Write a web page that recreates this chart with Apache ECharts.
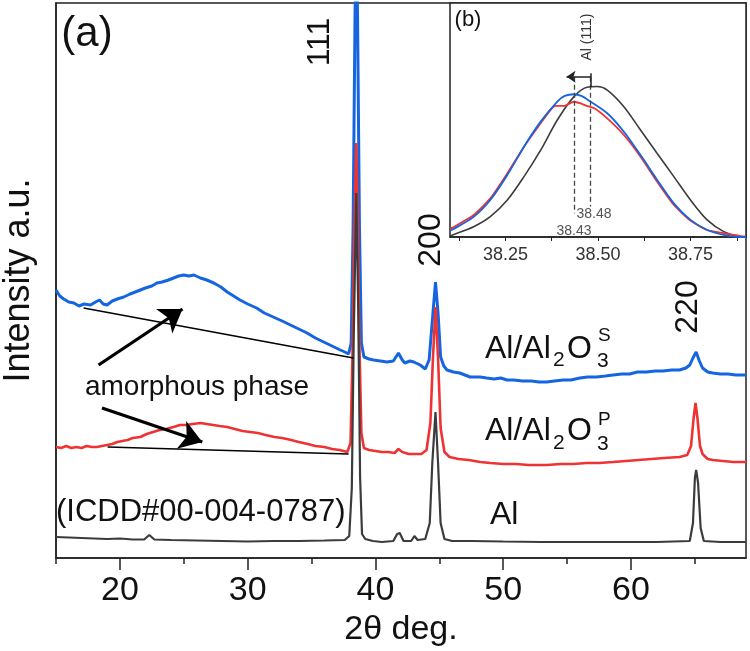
<!DOCTYPE html>
<html>
<head>
<meta charset="utf-8">
<script src="https://cdn.jsdelivr.net/npm/echarts@6.0.0/dist/echarts.min.js"></script>
<style>
html,body{margin:0;padding:0;background:#fff;}
#chart{width:750px;height:651px;}
</style>
</head>
<body>
<div id="chart"></div>
<script>
// ---------- main panel (a): 2-theta vs stacked intensity (a.u.) ----------
const xTicksMajor = [20, 30, 40, 50, 60];
const xTicksMinor = [15, 25, 35, 45, 55, 65];

const seriesS = [[15.0,268],[15.3,262],[15.6,259],[16.0,256],[16.4,255],[16.8,252],[17.2,254],[17.7,253],[18.1,256],[18.4,258],[18.7,254],[19.0,253],[19.4,257],[19.8,259],[20.3,261],[20.8,264],[21.2,266],[21.6,268],[22.0,270],[22.5,272],[22.9,275],[23.3,276],[23.8,278],[24.2,280],[24.6,282],[25.0,283],[25.4,282],[25.8,283],[26.3,280],[26.8,278],[27.35,275],[27.9,271],[28.4,266],[28.9,262],[29.4,258],[30.0,254],[30.7,250],[31.3,245],[32.0,241],[32.7,237],[33.35,233],[34.0,229],[34.65,225],[35.3,220],[35.95,216],[36.6,212],[37.25,208],[37.6,206],[37.9,204],[38.1,215],[38.25,330],[38.4,540],[38.5,640],[38.6,540],[38.75,330],[38.9,215],[39.1,201],[39.5,199],[39.85,198],[40.4,197],[40.9,196],[41.4,197],[41.8,205],[42.1,198],[42.3,195],[42.7,197],[43.0,196],[43.5,193],[43.9,189],[44.2,198],[44.5,245],[44.7,276],[44.9,245],[45.1,201],[45.35,192],[45.6,188],[46.1,186],[46.6,185],[47.4,181],[48.2,181],[48.7,180],[49.3,179],[49.8,180],[50.3,178],[50.8,178],[51.5,177],[52.2,177],[52.8,176],[53.4,176],[54.0,177],[54.7,178],[55.3,178],[56.0,180],[56.6,181],[57.3,181],[58.0,182],[58.6,183],[59.3,184],[59.9,184],[60.5,186],[61.2,186],[61.9,187],[62.5,187],[63.2,188],[63.8,188],[64.3,190],[64.6,193],[64.85,200],[65.1,206],[65.35,197],[65.6,190],[66.0,186],[66.4,185],[67.0,184],[67.6,184],[68.2,183],[69.0,183]];

const seriesP = [[15.0,111],[15.4,110],[15.8,112],[16.2,110],[16.6,111],[17.0,110],[17.4,112],[17.8,111],[18.2,111],[18.6,112],[19.0,113],[19.4,114],[19.8,116],[20.2,117],[20.6,118],[21.0,120],[21.6,121],[22.1,124],[22.6,126],[23.1,128],[23.6,129],[24.2,131],[24.7,133],[25.2,133],[25.7,134],[26.3,135],[26.8,134],[27.3,133],[27.8,132],[28.4,131],[29.0,129],[29.6,127],[30.2,126],[30.8,125],[31.4,123],[32.1,121],[32.7,120],[33.4,118],[34.0,116],[34.7,114],[35.3,112],[36.0,111],[36.6,109],[37.2,108],[37.8,106],[38.05,115],[38.2,200],[38.35,330],[38.5,415],[38.6,350],[38.75,210],[38.9,125],[39.1,110],[39.5,108],[40.0,107],[40.5,106],[41.0,106],[41.5,105],[41.8,109],[42.1,106],[42.6,104],[43.1,104],[43.6,104],[44.0,108],[44.3,135],[44.5,200],[44.7,251],[44.9,200],[45.1,130],[45.4,106],[45.8,101],[46.5,99],[47.3,98],[48.2,96],[49.0,95],[50.0,94],[51.0,94],[52.0,93],[53.4,93],[54.5,94],[55.5,94],[56.5,95],[57.5,95],[58.6,96],[59.6,97],[60.6,98],[61.6,99],[62.6,100],[63.8,101],[64.4,103],[64.7,112],[64.9,140],[65.05,155],[65.2,140],[65.4,112],[65.6,104],[66.0,99],[66.4,98],[67.2,97],[68.0,96],[69.0,96]];

const seriesAl = [[15.0,21],[16.0,20.5],[17.0,20],[18.0,19.5],[19.0,19],[20.0,19.5],[21.0,18.5],[21.9,18.5],[22.3,23],[22.7,18.5],[24.0,18],[26.0,17.5],[28.0,17],[30.0,16.5],[32.0,17],[34.0,17],[36.0,17.5],[37.6,18],[37.95,22],[38.15,70],[38.3,220],[38.5,365],[38.65,250],[38.8,80],[38.95,24],[39.2,19],[39.8,17],[40.5,16],[41.4,17],[41.7,24],[41.9,25],[42.2,17],[42.8,17],[43.05,22],[43.3,18],[43.9,19],[44.25,35],[44.45,95],[44.7,146],[44.9,95],[45.1,35],[45.4,19],[46.0,17],[47.5,17],[50.0,16.5],[53.0,16],[56.0,16],[59.0,16],[62.0,16],[64.6,17],[64.85,35],[65.0,80],[65.1,88],[65.25,75],[65.45,30],[65.7,17],[67.0,16],[69.0,16]];

// amorphous-hump baselines and arrows (data coordinates)
const baseS = [[17.16,250],[38.27,200]];
const baseP = [[19.04,111],[37.9,104]];
const arrowUp = [[18.33,193],[24.9,249]];
const arrowDown = [[18.6,150],[26.45,116]];

// ---------- inset (b): Al (111) peak ----------
const insetTicks = [38.125, 38.25, 38.375, 38.5, 38.625, 38.75, 38.875];
const insetLabels = [38.25, 38.5, 38.75];
const insetAl = [[38.10,0.5],[38.107,0.9],[38.164,4.4],[38.209,8.7],[38.255,15.8],[38.30,25.8],[38.345,37.1],[38.39,50],[38.435,60],[38.47,64],[38.498,64.3],[38.525,62.8],[38.57,55.7],[38.615,45.7],[38.66,35.7],[38.705,25.8],[38.75,15.8],[38.795,7.3],[38.84,2.3],[38.885,0.1],[38.90,0]];
const insetS = [[38.10,2.8],[38.107,3.2],[38.164,8.6],[38.209,15.8],[38.255,26.5],[38.30,38.6],[38.345,49.3],[38.39,57.9],[38.41,60.3],[38.435,61],[38.455,60.3],[38.47,58.9],[38.525,52.9],[38.57,45],[38.615,35],[38.66,24.4],[38.705,14.4],[38.75,7.3],[38.795,3],[38.84,0.9],[38.885,0],[38.90,0]];
const insetP = [[38.10,3.6],[38.107,4],[38.164,9.4],[38.209,16.5],[38.255,27.2],[38.30,38.6],[38.345,48.6],[38.372,54.3],[38.385,56],[38.408,56],[38.435,57.8],[38.453,57.1],[38.47,56],[38.49,55],[38.525,50.7],[38.57,43.6],[38.615,34.3],[38.66,23.6],[38.705,13.7],[38.75,7],[38.795,3],[38.84,1.6],[38.885,0.4],[38.90,0.3]];
const dashLeft = [[38.435,68.5],[38.435,10.2]];
const dashRight = [[38.48,68.5],[38.48,13]];
const shiftArrow = [[38.48,68.5],[38.415,68.5]];
const shiftTick = [[38.48,64],[38.48,70]];

const FONT = "'Liberation Sans', Arial, sans-serif";
const C_S = '#1565e0', C_P = '#f03232', C_AL = '#3c3c3c', AX = '#222';

function txt(text, x, y, size, opts) {
  opts = opts || {};
  return {
    type: 'text', x: x, y: y, rotation: opts.rot || 0, z: 100,
    style: {
      text: text, fontSize: size, fontFamily: FONT, fill: opts.color || '#111',
      align: opts.align || 'left', verticalAlign: 'middle',
      textAlign: opts.align || 'left', textVerticalAlign: 'middle'
    }
  };
}

const chart = echarts.init(document.getElementById('chart'), null, {renderer: 'canvas'});
chart.setOption({
  animation: false,
  backgroundColor: '#fff',
  textStyle: {fontFamily: FONT},
  grid: [
    {left: 56, right: 4, top: 3, bottom: 93, show: true, borderColor: AX, borderWidth: 1.5,
     containLabel: false, outerBoundsMode: 'none'},
    {left: 450, top: 3, width: 296, height: 234, show: true, borderColor: AX, borderWidth: 1.5,
     backgroundColor: '#fff', z: 5, containLabel: false, outerBoundsMode: 'none'}
  ],
  xAxis: [
    {
      type: 'value', gridIndex: 0, position: 'bottom', min: 15, max: 69,
      axisLine: {show: true, lineStyle: {color: AX, width: 1.5}},
      axisTick: {show: true, customValues: xTicksMajor, length: 12, lineStyle: {color: AX, width: 1.5}},
      axisLabel: {customValues: xTicksMajor, fontSize: 34, color: '#111', margin: 16, fontFamily: FONT},
      splitLine: {show: false},
      name: '2θ deg.', nameLocation: 'middle', nameGap: 50,
      nameTextStyle: {fontSize: 34, color: '#111', fontFamily: FONT}
    },
    {
      type: 'value', gridIndex: 0, position: 'bottom', offset: 0, min: 15, max: 69,
      axisLine: {show: false},
      axisTick: {show: true, customValues: xTicksMinor, length: 6, lineStyle: {color: AX, width: 1.5}},
      axisLabel: {show: false},
      splitLine: {show: false}
    },
    {
      type: 'value', gridIndex: 1, position: 'bottom', min: 38.1, max: 38.9, z: 6,
      axisLine: {show: true, lineStyle: {color: AX, width: 1.5}},
      axisTick: {show: true, customValues: insetTicks, length: 4, lineStyle: {color: AX, width: 1}},
      axisLabel: {customValues: insetLabels, fontSize: 18, color: '#333', margin: 9, fontFamily: FONT,
                  formatter: function (v) { return Number(v).toFixed(2); }},
      splitLine: {show: false}
    }
  ],
  yAxis: [
    {
      type: 'value', gridIndex: 0, min: 0, max: 555,
      axisLine: {show: true, lineStyle: {color: AX, width: 1.5}},
      axisTick: {show: false}, axisLabel: {show: false}, splitLine: {show: false},
      name: 'Intensity a.u.', nameLocation: 'middle', nameGap: 19,
      nameTextStyle: {fontSize: 36, color: '#111', fontFamily: FONT}
    },
    {
      type: 'value', gridIndex: 1, min: 0, max: 100, z: 6,
      axisLine: {show: false}, axisTick: {show: false}, axisLabel: {show: false}, splitLine: {show: false}
    }
  ],
  series: [
    {name: 'Al/Al2O3 S', type: 'line', xAxisIndex: 0, yAxisIndex: 0, data: seriesS, symbol: 'none', clip: true,
     lineStyle: {color: C_S, width: 3}},
    {name: 'Al/Al2O3 P', type: 'line', xAxisIndex: 0, yAxisIndex: 0, data: seriesP, symbol: 'none', clip: true,
     lineStyle: {color: C_P, width: 2.6}},
    {name: 'Al', type: 'line', xAxisIndex: 0, yAxisIndex: 0, data: seriesAl, symbol: 'none', clip: true,
     lineStyle: {color: C_AL, width: 2.2}},
    {type: 'line', xAxisIndex: 0, yAxisIndex: 0, data: baseS, symbol: 'none', lineStyle: {color: '#000', width: 1.5}, z: 3},
    {type: 'line', xAxisIndex: 0, yAxisIndex: 0, data: baseP, symbol: 'none', lineStyle: {color: '#000', width: 1.5}, z: 3},
    {type: 'lines', coordinateSystem: 'cartesian2d', xAxisIndex: 0, yAxisIndex: 0, z: 4,
     symbol: ['none', 'arrow'], symbolSize: [16, 22],
     lineStyle: {color: '#000', width: 3.2, opacity: 1},
     data: [{coords: arrowUp}, {coords: arrowDown}]},
    // inset
    {type: 'line', xAxisIndex: 2, yAxisIndex: 1, data: insetAl, symbol: 'none', smooth: 0.3, z: 7,
     lineStyle: {color: C_AL, width: 1.6}},
    {type: 'line', xAxisIndex: 2, yAxisIndex: 1, data: insetP, symbol: 'none', smooth: 0.2, z: 7,
     lineStyle: {color: C_P, width: 1.8}},
    {type: 'line', xAxisIndex: 2, yAxisIndex: 1, data: insetS, symbol: 'none', smooth: 0.3, z: 7,
     lineStyle: {color: C_S, width: 1.8}},
    {type: 'lines', coordinateSystem: 'cartesian2d', xAxisIndex: 2, yAxisIndex: 1, z: 8,
     lineStyle: {color: '#444', width: 1.3, type: [5, 3], opacity: 1},
     data: [{coords: dashLeft}, {coords: dashRight}]},
    {type: 'lines', coordinateSystem: 'cartesian2d', xAxisIndex: 2, yAxisIndex: 1, z: 8,
     symbol: ['none', 'arrow'], symbolSize: 9,
     lineStyle: {color: '#222', width: 1.5, opacity: 1},
     data: [{coords: shiftArrow}]},
    {type: 'lines', coordinateSystem: 'cartesian2d', xAxisIndex: 2, yAxisIndex: 1, z: 8,
     lineStyle: {color: '#222', width: 1.5, opacity: 1},
     data: [{coords: shiftTick}]}
  ],
  graphic: [
    txt('(a)', 87, 34, 42, {align: 'center'}),
    txt('111', 320, 42, 32, {align: 'center', rot: Math.PI / 2}),
    txt('200', 431, 240, 32, {align: 'center', rot: Math.PI / 2}),
    txt('220', 688, 307, 32, {align: 'center', rot: Math.PI / 2}),
    txt('amorphous phase', 197, 387, 28, {align: 'center'}),
    txt('(ICDD#00-004-0787)', 56, 512, 31),
    // Al/Al2O3 (S)
    txt('Al/Al', 485, 349, 32),
    txt('2', 553, 360, 21),
    txt('O', 567, 349, 32),
    txt('3', 597, 361, 21),
    txt('S', 598, 336, 19),
    // Al/Al2O3 (P)
    txt('Al/Al', 485, 431, 32),
    txt('2', 553, 443, 21),
    txt('O', 567, 431, 32),
    txt('3', 597, 444, 21),
    txt('P', 598, 420, 19),
    // Al
    txt('Al', 490, 515, 32),
    // inset texts
    txt('(b)', 468, 20, 22, {align: 'center'}),
    txt('Al (111)', 587, 37, 14, {align: 'center', rot: Math.PI / 2, color: '#333'}),
    txt('38.48', 594, 214, 14, {align: 'center', color: '#555'}),
    txt('38.43', 574, 231, 14, {align: 'center', color: '#555'})
  ]
});
</script>
</body>
</html>
